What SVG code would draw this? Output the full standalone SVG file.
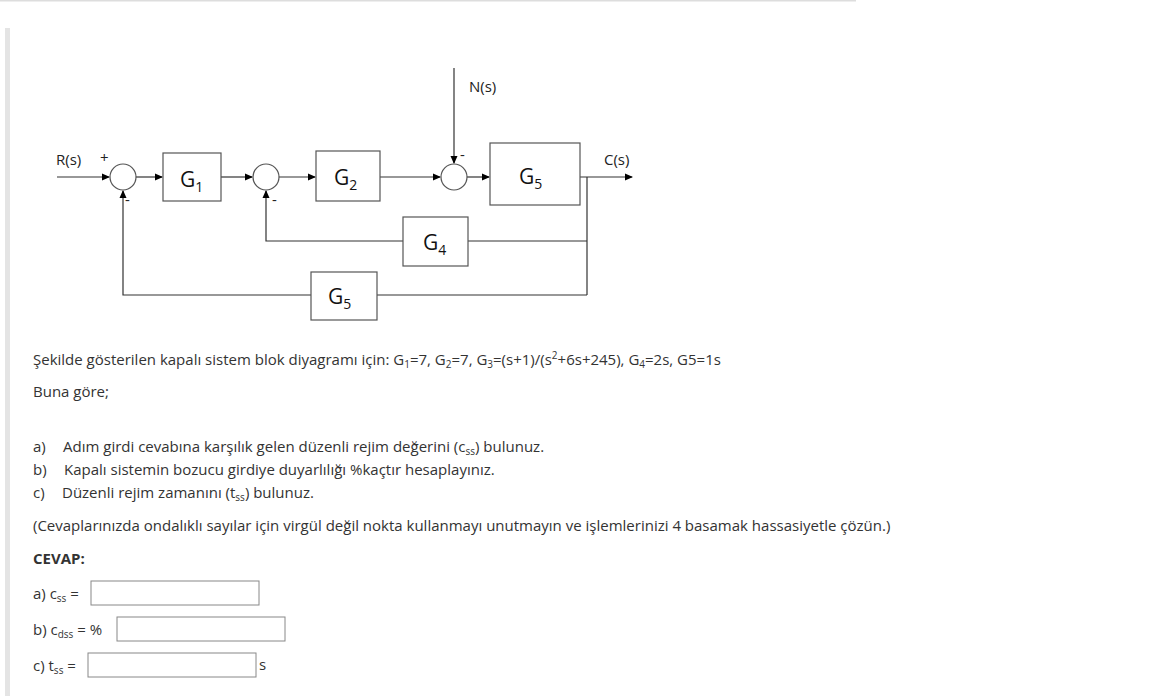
<svg xmlns="http://www.w3.org/2000/svg" width="1156" height="696" viewBox="0 0 1156 696">
<defs>
<marker id="ah" markerWidth="8" markerHeight="8" refX="7" refY="4" orient="auto" markerUnits="userSpaceOnUse"><path d="M0,0.5 L8,4 L0,7.5 Z" fill="#000"/></marker>
<style>
.ln{stroke:#333;stroke-width:1.2;fill:none}
.bx{fill:#fff;stroke:#555;stroke-width:1.2}
.sm{fill:#fff;stroke:#555;stroke-width:1.2}
.lb{font-family:"Open Sans","Liberation Sans",sans-serif;font-size:15px;fill:#222}
.g{font-family:"Open Sans","Liberation Sans",sans-serif;font-size:21px;fill:#111}
.sub{font-size:14px}
.t{font-family:"Open Sans","Liberation Sans",sans-serif;font-size:15px;fill:#333}
.s{font-size:10px}
.ib{fill:#fff;stroke:#888;stroke-width:1}
</style>
</defs>
<rect width="1156" height="696" fill="#fff"/>
<rect x="0" y="0" width="856" height="1.5" fill="#ddd"/>
<rect x="5" y="28" width="5" height="668" fill="#e4e4e4"/>
<g id="connectors">
<path class="ln" d="M57,177 H109" marker-end="url(#ah)"/>
<path class="ln" d="M136,177 H162" marker-end="url(#ah)"/>
<path class="ln" d="M221,177 H252" marker-end="url(#ah)"/>
<path class="ln" d="M279,177 H315" marker-end="url(#ah)"/>
<path class="ln" d="M380,177 H440" marker-end="url(#ah)"/>
<path class="ln" d="M454,68 V163" marker-end="url(#ah)"/>
<path class="ln" d="M467,177 H489" marker-end="url(#ah)"/>
<path class="ln" d="M580,177 H632" marker-end="url(#ah)"/>
<path class="ln" d="M587,177 V295"/>
<path class="ln" d="M587,241 H468"/>
<path class="ln" d="M403,241 H266 V191" marker-end="url(#ah)"/>
<path class="ln" d="M587,295 H377"/>
<path class="ln" d="M311,295 H123 V191" marker-end="url(#ah)"/>
</g>
<g id="sum1"><circle class="sm" cx="123" cy="177" r="13"/></g>
<g id="sum2"><circle class="sm" cx="266" cy="177" r="13"/></g>
<g id="sum3"><circle class="sm" cx="454" cy="177" r="13"/></g>
<g id="G1"><rect class="bx" x="163" y="153" width="58" height="48"/><text class="g" x="180" y="187">G<tspan class="sub" dy="5">1</tspan></text></g>
<g id="G2"><rect class="bx" x="316" y="151" width="64" height="50"/><text class="g" x="334" y="185">G<tspan class="sub" dy="5">2</tspan></text></g>
<g id="G5a"><rect class="bx" x="490" y="143" width="90" height="62"/><text class="g" x="519" y="184">G<tspan class="sub" dy="5">5</tspan></text></g>
<g id="G4"><rect class="bx" x="403" y="217" width="65" height="49"/><text class="g" x="423" y="250">G<tspan class="sub" dy="5">4</tspan></text></g>
<g id="G5b"><rect class="bx" x="311" y="272" width="66" height="48"/><text class="g" x="328" y="304">G<tspan class="sub" dy="5">5</tspan></text></g>
<g id="labels">
<text class="lb" x="56" y="165">R(s)</text>
<text class="lb" x="100" y="163" font-size="12">+</text>
<text class="lb" x="125" y="205" font-size="11">-</text>
<text class="lb" x="272" y="205" font-size="11">-</text>
<text class="lb" x="460" y="160" font-size="11">-</text>
<text class="lb" x="469" y="92">N(s)</text>
<text class="lb" x="604" y="165">C(s)</text>
</g>
<g id="text">
<text class="t" x="33" y="365">Şekilde gösterilen kapalı sistem blok diyagramı için: G<tspan class="s" dy="3">1</tspan><tspan dy="-3">=7, G</tspan><tspan class="s" dy="3">2</tspan><tspan dy="-3">=7, G</tspan><tspan class="s" dy="3">3</tspan><tspan dy="-3">=(s+1)/(s</tspan><tspan class="s" dy="-6">2</tspan><tspan dy="6">+6s+245), G</tspan><tspan class="s" dy="3">4</tspan><tspan dy="-3">=2s, G5=1s</tspan></text>
<text class="t" x="33" y="397">Buna göre;</text>
<text class="t" x="33" y="452">a)</text><text class="t" x="63" y="452">Adım girdi cevabına karşılık gelen düzenli rejim değerini (c<tspan class="s" dy="3">ss</tspan><tspan dy="-3">) bulunuz.</tspan></text>
<text class="t" x="33" y="475">b)</text><text class="t" x="64" y="475">Kapalı sistemin bozucu girdiye duyarlılığı %kaçtır hesaplayınız.</text>
<text class="t" x="33" y="498">c)</text><text class="t" x="62" y="498">Düzenli rejim zamanını (t<tspan class="s" dy="3">ss</tspan><tspan dy="-3">) bulunuz.</tspan></text>
<text class="t" x="33" y="531">(Cevaplarınızda ondalıklı sayılar için virgül değil nokta kullanmayı unutmayın ve işlemlerinizi 4 basamak hassasiyetle çözün.)</text>
<text class="t" x="33" y="564" font-weight="bold">CEVAP:</text>
<text class="t" x="33" y="599">a) c<tspan class="s" dy="3">ss</tspan><tspan dy="-3"> =</tspan></text>
<rect class="ib" x="91" y="581" width="168" height="24"/>
<text class="t" x="33" y="635">b) c<tspan class="s" dy="3">dss</tspan><tspan dy="-3"> = %</tspan></text>
<rect class="ib" x="117" y="617" width="168" height="24"/>
<text class="t" x="33" y="671">c) t<tspan class="s" dy="3">ss</tspan><tspan dy="-3"> =</tspan></text>
<rect class="ib" x="88" y="653" width="168" height="24"/>
<text class="t" x="259" y="670" font-size="13">s</text>
</g>
</svg>
